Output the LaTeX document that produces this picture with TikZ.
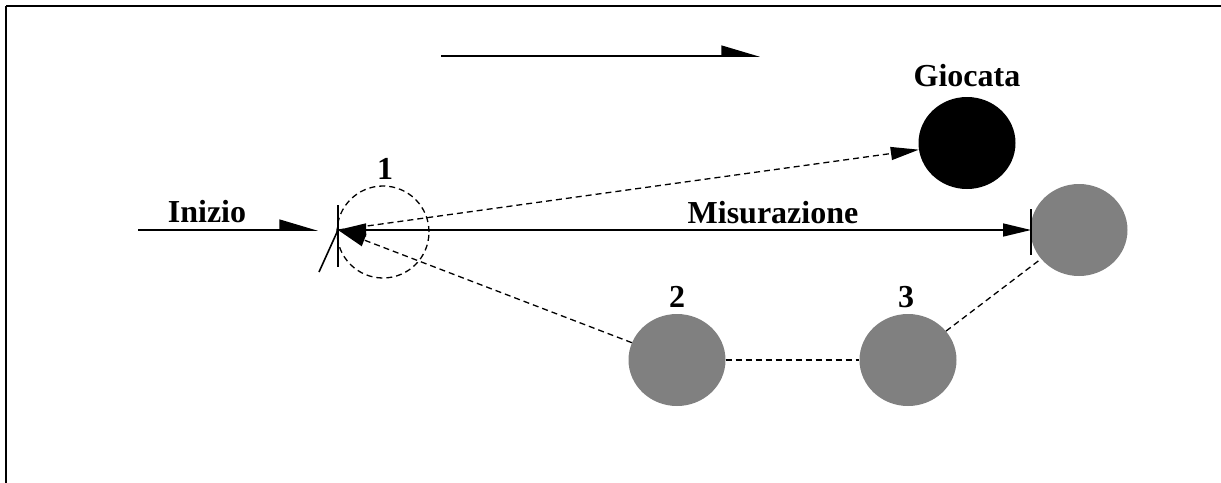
\documentclass[tikz,border=0pt]{standalone}
\usepackage{fontspec}
\setmainfont{Liberation Serif}
\usetikzlibrary{shapes.geometric,arrows.meta}
\tikzset{
  lbl/.style={font=\bfseries\fontsize{32}{38}\selectfont, anchor=base, inner sep=0pt},
  blob/.style={ellipse, inner sep=0pt, minimum width=97pt, minimum height=92pt, draw=none},
  dsh/.style={line width=1.3pt, dash pattern=on 6pt off 4pt},
  solidln/.style={line width=1.6pt},
  bigtip/.style={-{Triangle[length=28pt,width=13pt]}},
  halftip/.style={-{Triangle[harpoon,length=36pt,width=21pt]}},
}
\begin{document}
\begin{tikzpicture}[x=1pt,y=-1pt]
\useasboundingbox (0,0) rectangle (1221,482);
% frame
\coordinate (f0) at (6,6);
\draw[line width=2pt] (f0) -- ++(1220,0);
\draw[line width=2pt] (f0) -- ++(0,480);

% top arrow
\coordinate (ta) at (441,56);
\coordinate (tb) at (760,56);
\draw[solidln,halftip] (ta) -- (tb);

% node 1
\node[circle, draw, dsh, minimum size=92pt, inner sep=0pt] (n1) at (383,232) {};
\coordinate (b1) at (338,230);
\draw[line width=1.6pt] (b1) ++(0,-25) -- ++(0,62);
\draw[line width=1.6pt] (b1) -- ++(-19,42);
\node[lbl] (l1) at (385,179) {1};

% inizio
\coordinate (ia) at (138,230);
\coordinate (ib) at (318,230);
\draw[solidln,halftip] (ia) -- (ib);
\node[lbl] (li) at (207,222) {Inizio};

% giocata
\node[blob, fill=black] (g) at (967,143) {};
\node[lbl] (lg) at (967,86) {Giocata};
\draw[dsh,bigtip] (b1) -- (g);

% misurazione target
\node[blob, fill=gray] (m) at (1079,230) {};
\coordinate (bm) at (1031,230);
\draw[line width=1.6pt] (bm) ++(0,-21) -- ++(0,46);
\draw[solidln,{Triangle[length=28pt,width=13pt]}-{Triangle[length=28pt,width=13pt]}] (b1) -- (bm);
\node[lbl] (lm) at (773,223) {Misurazione};

% nodes 2, 3
\node[blob, fill=gray] (n2) at (677,360) {};
\node[blob, fill=gray] (n3) at (908,360) {};
\node[lbl] (l2) at (677,307) {2};
\node[lbl] (l3) at (906,307) {3};
\draw[dsh] (n2) -- (n3);
\draw[dsh] (n3) -- (m);
\draw[dsh,bigtip] (n2) -- (b1);
\end{tikzpicture}
\end{document}
